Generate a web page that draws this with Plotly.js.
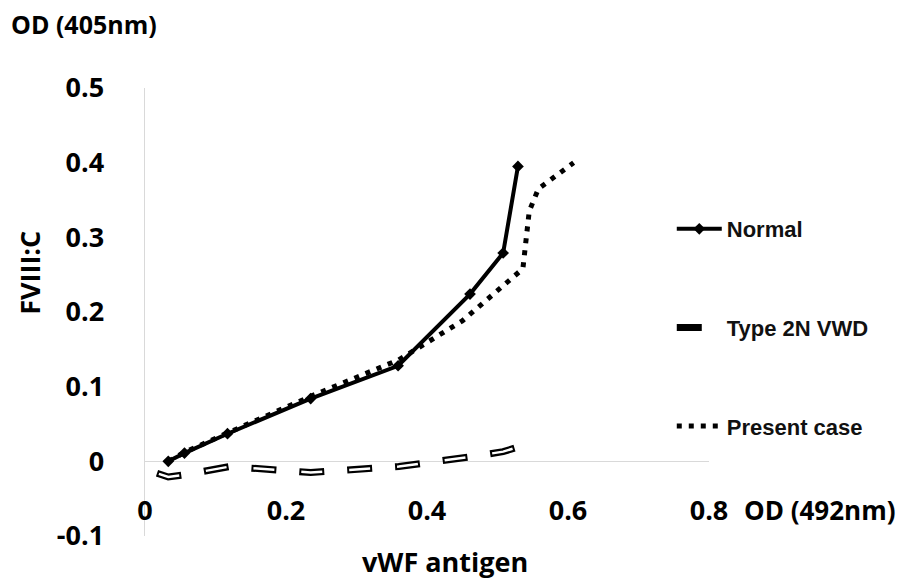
<!DOCTYPE html>
<html>
<head>
<meta charset="utf-8">
<script src="https://cdn.plot.ly/plotly-3.0.1.min.js"></script>
<style>html,body{margin:0;padding:0;background:#fff;}#chart{width:919px;height:584px;}</style>
</head>
<body>
<div id="chart"></div>
<script>
// ---- data ----
const normalX  = [0.033, 0.056, 0.117, 0.235, 0.359, 0.461, 0.508, 0.529];
const normalY  = [0.000, 0.011, 0.037, 0.084, 0.128, 0.224, 0.279, 0.395];

const type2nX  = [0.017, 0.033, 0.056, 0.120, 0.235, 0.360, 0.461, 0.508, 0.529];
const type2nY  = [-0.016, -0.021, -0.018, -0.007, -0.015, -0.007, 0.006, 0.013, 0.019];

const presentX = [0.033, 0.056, 0.117, 0.235, 0.360, 0.450, 0.536, 0.545, 0.558, 0.608];
const presentY = [0.000, 0.012, 0.038, 0.087, 0.136, 0.188, 0.258, 0.335, 0.365, 0.400];

const xTickVals = [0, 0.2, 0.4, 0.6, 0.8];
const xTickText = ['0', '0.2', '0.4', '0.6', '0.8'];
const yTickVals = [-0.1, 0, 0.1, 0.2, 0.3, 0.4, 0.5];
const yTickText = ['-0.1', '0', '0.1', '0.2', '0.3', '0.4', '0.5'];

const seriesNames = ['Normal', 'Type 2N VWD', 'Present case'];

// ---- styling ----
const boldFont = 'Open Sans, Noto Sans, sans-serif';
const legendFontFamily = 'Liberation Sans, Arial, sans-serif';

const traces = [
  {
    x: normalX, y: normalY, name: seriesNames[0], legendgroup: 'g1',
    type: 'scatter', mode: 'lines+markers',
    line: {color: '#000', width: 4},
    marker: {symbol: 'diamond', size: 9, color: '#000'}
  },
  {
    x: type2nX, y: type2nY, name: seriesNames[1], legendgroup: 'g2',
    type: 'scatter', mode: 'lines',
    line: {color: '#000', width: 7, dash: '25px,23px'}
  },
  {
    x: type2nX, y: type2nY, name: seriesNames[1], legendgroup: 'g2', showlegend: false,
    type: 'scatter', mode: 'lines', hoverinfo: 'skip',
    line: {color: '#fff', width: 2.5, dash: '0px,2px,21px,25px'}
  },
  {
    x: presentX, y: presentY, name: seriesNames[2], legendgroup: 'g3',
    type: 'scatter', mode: 'lines',
    line: {color: '#000', width: 5, dash: '5px,7px'}
  }
];

const layout = {
  width: 919, height: 584,
  margin: {l: 145, r: 210, t: 88, b: 48},
  paper_bgcolor: '#fff', plot_bgcolor: '#fff',
  showlegend: true,
  legend: {
    x: 0.934, xanchor: 'left', y: 0.732, yanchor: 'top',
    traceorder: 'grouped', tracegroupgap: 67,
    font: {family: legendFontFamily, size: 22, color: '#111', weight: 'bold'},
    bgcolor: 'rgba(0,0,0,0)', itemwidth: 45
  },
  xaxis: {
    range: [0, 0.8], tickvals: xTickVals, ticktext: xTickText,
    showgrid: false, zeroline: false, showline: false, ticks: '',
    anchor: 'free', position: 0.098,
    tickfont: {family: boldFont, size: 27, color: '#000', weight: 'bold'}
  },
  yaxis: {
    range: [-0.1, 0.5], tickvals: yTickVals, ticktext: yTickText,
    showgrid: false, zeroline: true, zerolinecolor: '#d9d9d9', zerolinewidth: 1.5,
    showline: true, linecolor: '#d9d9d9', linewidth: 1.5, ticks: '',
    ticklabelstandoff: 34,
    tickfont: {family: boldFont, size: 27, color: '#000', weight: 'bold'}
  },
  annotations: [
    {text: 'OD (405nm)', xref: 'paper', yref: 'paper', x: -0.241, y: 1.143,
     xanchor: 'left', yanchor: 'middle', showarrow: false,
     font: {family: boldFont, size: 25, color: '#000', weight: 'bold'}},
    {text: 'OD (492nm)', xref: 'paper', yref: 'paper', x: 1.058, y: 0.058,
     xanchor: 'left', yanchor: 'middle', showarrow: false,
     font: {family: boldFont, size: 26, color: '#000', weight: 'bold'}},
    {text: 'FVIII:C', xref: 'paper', yref: 'paper', x: -0.206, y: 0.587,
     xanchor: 'center', yanchor: 'middle', showarrow: false, textangle: -90,
     font: {family: boldFont, size: 27, color: '#000', weight: 'bold'}},
    {text: 'vWF antigen', xref: 'paper', yref: 'paper', x: 0.532, y: -0.058,
     xanchor: 'center', yanchor: 'middle', showarrow: false,
     font: {family: boldFont, size: 27, color: '#000', weight: 'bold'}}
  ]
};

Plotly.newPlot('chart', traces, layout, {displayModeBar: false, staticPlot: true});
</script>
</body>
</html>
